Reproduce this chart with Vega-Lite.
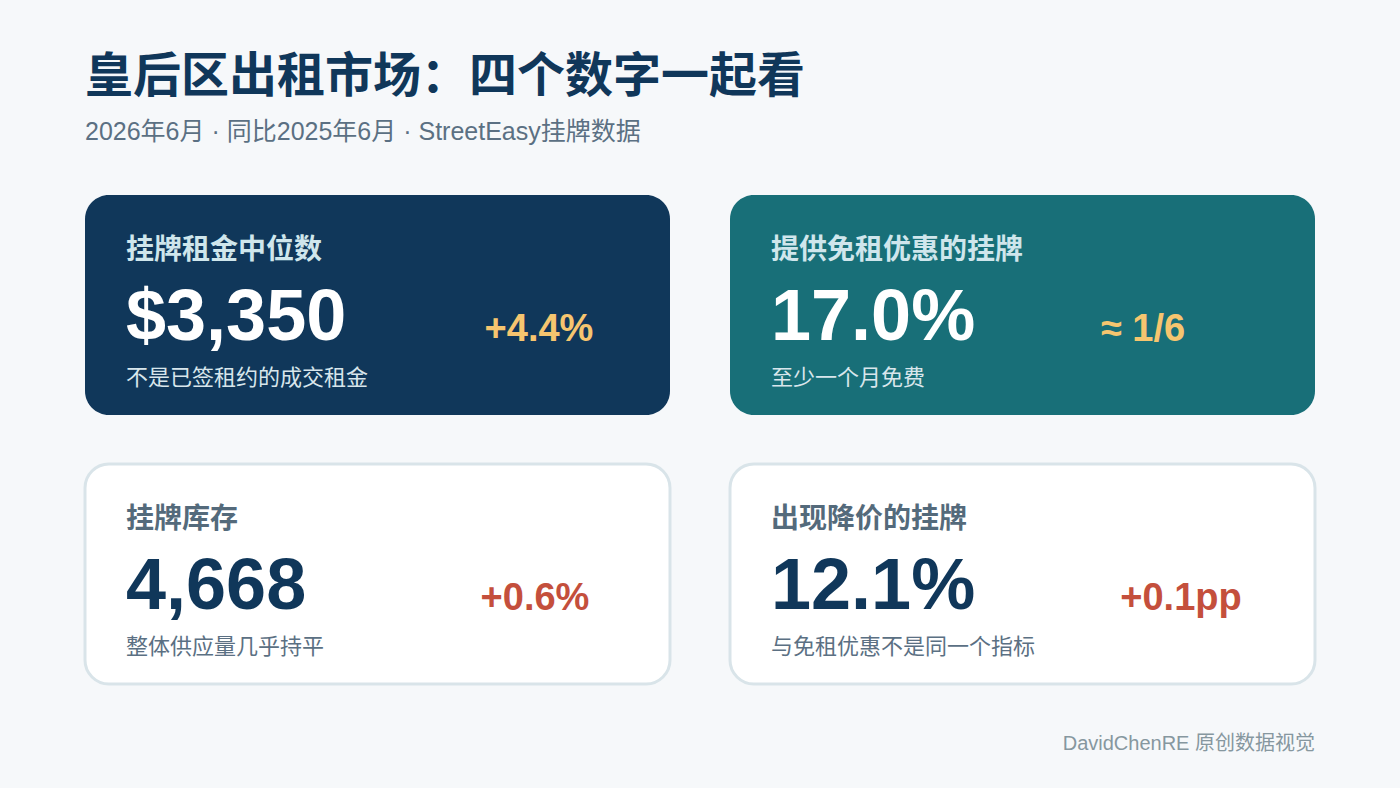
{
  "$schema": "https://vega.github.io/schema/vega-lite/v6.json",
  "background": "#f6f8fa",
  "padding": {"left": 83, "top": 54, "right": 83, "bottom": 32},
  "autosize": {"type": "pad"},
  "title": {
    "text": "皇后区出租市场：四个数字一起看",
    "subtitle": "2026年6月 · 同比2025年6月 · StreetEasy挂牌数据",
    "anchor": "start",
    "frame": "group",
    "font": "Liberation Sans, Noto Sans CJK SC",
    "fontSize": 48,
    "fontWeight": 700,
    "color": "#10375a",
    "subtitleFont": "Liberation Sans, Noto Sans CJK SC",
    "subtitleFontSize": 25,
    "subtitleColor": "#5b7083",
    "subtitlePadding": 18,
    "offset": 50
  },
  "datasets": {
    "cards": [
      {"card": "rent", "role": "label", "text": "挂牌租金中位数"},
      {"card": "rent", "role": "value", "text": "$3,350"},
      {"card": "rent", "role": "note", "text": "不是已签租约的成交租金"},
      {"card": "rent", "role": "delta", "text": "+4.4%"},
      {"card": "free", "role": "label", "text": "提供免租优惠的挂牌"},
      {"card": "free", "role": "value", "text": "17.0%"},
      {"card": "free", "role": "note", "text": "至少一个月免费"},
      {"card": "free", "role": "delta", "text": "≈ 1/6"},
      {"card": "stock", "role": "label", "text": "挂牌库存"},
      {"card": "stock", "role": "value", "text": "4,668"},
      {"card": "stock", "role": "note", "text": "整体供应量几乎持平"},
      {"card": "stock", "role": "delta", "text": "+0.6%"},
      {"card": "cut", "role": "label", "text": "出现降价的挂牌"},
      {"card": "cut", "role": "value", "text": "12.1%"},
      {"card": "cut", "role": "note", "text": "与免租优惠不是同一个指标"},
      {"card": "cut", "role": "delta", "text": "+0.1pp"}
    ],
    "footer": [{"text": "DavidChenRE 原创数据视觉"}]
  },
  "config": {
    "font": "Liberation Sans, Noto Sans CJK SC",
    "view": {"stroke": null}
  },
  "spacing": 46,
  "vconcat": [
    {
      "data": {"name": "cards"},
      "transform": [
        {"calculate": "datum.card == 'rent' || datum.card == 'free' ? 'top' : 'bottom'", "as": "cardRow"},
        {"calculate": "datum.card == 'rent' || datum.card == 'stock' ? 'left' : 'right'", "as": "cardCol"}
      ],
      "facet": {
        "row": {"field": "cardRow", "type": "nominal", "sort": ["top", "bottom"], "header": null},
        "column": {"field": "cardCol", "type": "nominal", "sort": ["left", "right"], "header": null}
      },
      "spacing": {"row": 45, "column": 56},
      "spec": {
        "width": 585,
        "height": 220,
        "layer": [
          {
            "transform": [{"filter": "datum.role == 'label'"}],
            "mark": {"type": "rect", "cornerRadius": 24, "strokeWidth": 3},
            "encoding": {
              "color": {"field": "card", "type": "nominal", "legend": null, "scale": {"domain": ["rent", "free", "stock", "cut"], "range": ["#10375a", "#186f78", "#ffffff", "#ffffff"]}},
              "stroke": {"condition": {"test": "datum.card == 'stock' || datum.card == 'cut'", "value": "#d9e4e9"}, "value": null}
            }
          },
          {
            "transform": [{"filter": "datum.role == 'label'"}],
            "mark": {"type": "text", "align": "left", "baseline": "middle", "fontSize": 28, "fontWeight": 700},
            "encoding": {
              "x": {"datum": "left", "type": "nominal", "axis": null, "scale": {"type": "point", "domain": ["left", "right"], "range": [41, 450], "padding": 0}},
              "y": {"datum": "label", "type": "nominal", "axis": null, "scale": {"type": "point", "domain": ["label", "value", "note"], "range": [56, 183], "padding": 0}},
              "text": {"field": "text"},
              "color": {"condition": {"test": "datum.card == 'rent' || datum.card == 'free'", "value": "#cfe6ec"}, "value": "#546a7b"}
            }
          },
          {
            "transform": [{"filter": "datum.role == 'value'"}],
            "mark": {"type": "text", "align": "left", "baseline": "middle", "fontSize": 72, "fontWeight": 700, "dy": 3},
            "encoding": {
              "x": {"datum": "left", "type": "nominal", "axis": null},
              "y": {"datum": "value", "type": "nominal", "axis": null},
              "text": {"field": "text"},
              "color": {"condition": {"test": "datum.card == 'rent' || datum.card == 'free'", "value": "#ffffff"}, "value": "#10375a"}
            }
          },
          {
            "transform": [{"filter": "datum.role == 'note'"}],
            "mark": {"type": "text", "align": "left", "baseline": "middle", "fontSize": 22},
            "encoding": {
              "x": {"datum": "left", "type": "nominal", "axis": null},
              "y": {"datum": "note", "type": "nominal", "axis": null},
              "text": {"field": "text"},
              "color": {"condition": {"test": "datum.card == 'rent' || datum.card == 'free'", "value": "#d8e6ec"}, "value": "#5b7083"}
            }
          },
          {
            "transform": [{"filter": "datum.role == 'delta'"}],
            "mark": {"type": "text", "align": "center", "baseline": "middle", "fontSize": 38, "fontWeight": 700, "dy": 15, "dx": {"expr": "datum.card == 'free' ? -37 : datum.card == 'rent' ? 4 : datum.card == 'cut' ? 1 : 0"}},
            "encoding": {
              "x": {"datum": "right", "type": "nominal", "axis": null},
              "y": {"datum": "value", "type": "nominal", "axis": null},
              "text": {"field": "text"},
              "color": {"condition": {"test": "datum.card == 'rent' || datum.card == 'free'", "value": "#f6c56f"}, "value": "#c44f3c"}
            }
          }
        ]
      }
    },
    {
      "width": 1230,
      "height": 24,
      "data": {"name": "footer"},
      "mark": {"type": "text", "align": "right", "baseline": "middle", "fontSize": 20, "color": "#86979f"},
      "encoding": {
        "x": {"datum": 1, "type": "quantitative", "axis": null, "scale": {"domain": [0, 1]}},
        "text": {"field": "text"}
      }
    }
  ]
}
